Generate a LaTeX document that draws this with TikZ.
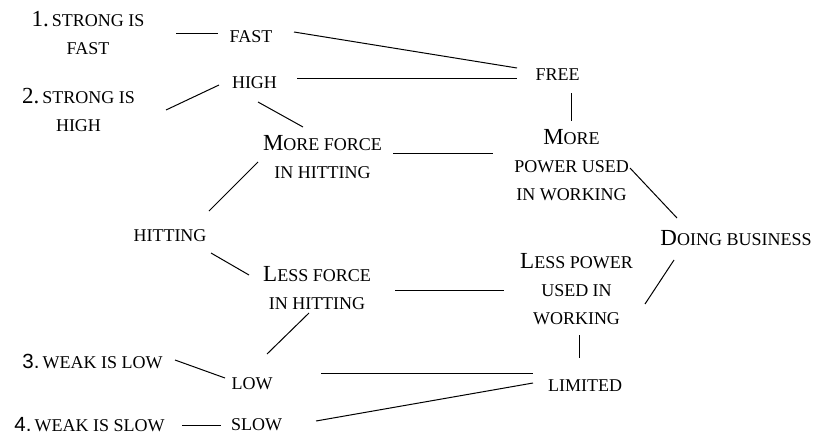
\documentclass[tikz,border=0pt]{standalone}
\usepackage{fontspec}
\setmainfont{Liberation Serif}
\newfontfamily\digitsans{Liberation Sans}
\usetikzlibrary{calc}
\newcommand\Bg[1]{{\fontsize{23}{28}\selectfont #1}}
\newcommand\Bs[1]{{\digitsans\fontsize{20.5}{28}\selectfont #1}}
\tikzset{
  lbl/.style={inner sep=0pt, align=center, font=\fontsize{18}{28}\selectfont},
  conn/.style={line width=1pt}
}
\begin{document}
\begin{tikzpicture}[x=1pt,y=-1pt]
\useasboundingbox (0,0) rectangle (818,439);
% nodes
\node[lbl] (s1) at (88,33) {\Bg{1.}\,STRONG IS\\FAST};
\node[lbl] (fast) at (251,36.7) {FAST};
\node[lbl] (high) at (254.5,83) {HIGH};
\node[lbl] (s2) at (78.5,110) {\Bg{2.}\,STRONG IS\\HIGH};
\node[lbl] (free) at (557.5,75) {FREE};
\node[lbl] (moreforce) at (322.5,157.5) {\Bg{M}ORE FORCE\\IN HITTING};
\node[lbl] (morepower) at (571.5,165) {\Bg{M}ORE\\POWER USED\\IN WORKING};
\node[lbl] (hitting) at (170,236) {HITTING};
\node[lbl] (doing) at (736,238.5) {\Bg{D}OING BUSINESS};
\node[lbl] (lessforce) at (317,288.5) {\Bg{L}ESS FORCE\\IN HITTING};
\node[lbl] (lesspower) at (576.5,289) {\Bg{L}ESS POWER\\USED IN\\WORKING};
\node[lbl] (s3) at (92.5,361.5) {\Bs{3.}\,WEAK IS LOW};
\node[lbl] (low) at (252,383.5) {LOW};
\node[lbl] (limited) at (585,385.5) {LIMITED};
\node[lbl] (s4) at (89.5,424.5) {\Bs{4.}\,WEAK IS SLOW};
\node[lbl] (slow) at (256.5,424.5) {SLOW};
% connectors
\draw[conn] ($(s1)+(88,0)$) -- ($(fast)+(-33,-3.7)$);
\draw[conn] ($(fast)+(43,-4.7)$) -- ($(free)+(-40.5,-7)$);
\draw[conn] ($(high)+(42.5,-5)$) -- ($(free)+(-40.5,3)$);
\draw[conn] ($(s2)+(87.5,0)$) -- ($(high)+(-35.5,2)$);
\draw[conn] ($(high)+(3.5,19)$) -- ($(moreforce)+(-19.5,-30.5)$);
\draw[conn] ($(free)+(13.5,18)$) -- ($(morepower)+(-0.5,-44)$);
\draw[conn] ($(moreforce)+(70.5,-4.5)$) -- ($(morepower)+(-78.5,-12)$);
\draw[conn] ($(morepower)+(58.5,3)$) -- ($(doing)+(-59,-20.5)$);
\draw[conn] ($(hitting)+(39,-25)$) -- ($(moreforce)+(-64.5,4.5)$);
\draw[conn] ($(hitting)+(41,17)$) -- ($(lessforce)+(-68,-13.5)$);
\draw[conn] ($(lessforce)+(78,1.5)$) -- ($(lesspower)+(-72.5,1)$);
\draw[conn] ($(lesspower)+(68.5,15)$) -- ($(doing)+(-62,21.5)$);
\draw[conn] ($(lesspower)+(2.5,46)$) -- ($(limited)+(-6,-27.5)$);
\draw[conn] ($(low)+(15,-29.5)$) -- ($(lessforce)+(-8,24.5)$);
\draw[conn] ($(s3)+(82.5,-1.5)$) -- ($(low)+(-27,-5.5)$);
\draw[conn] ($(low)+(69,-10.5)$) -- ($(limited)+(-52,-12.5)$);
\draw[conn] ($(slow)+(59.5,-3.5)$) -- ($(limited)+(-52,-2.5)$);
\draw[conn] ($(s4)+(92.5,0.5)$) -- ($(slow)+(-35.5,0.5)$);
\end{tikzpicture}
\end{document}
